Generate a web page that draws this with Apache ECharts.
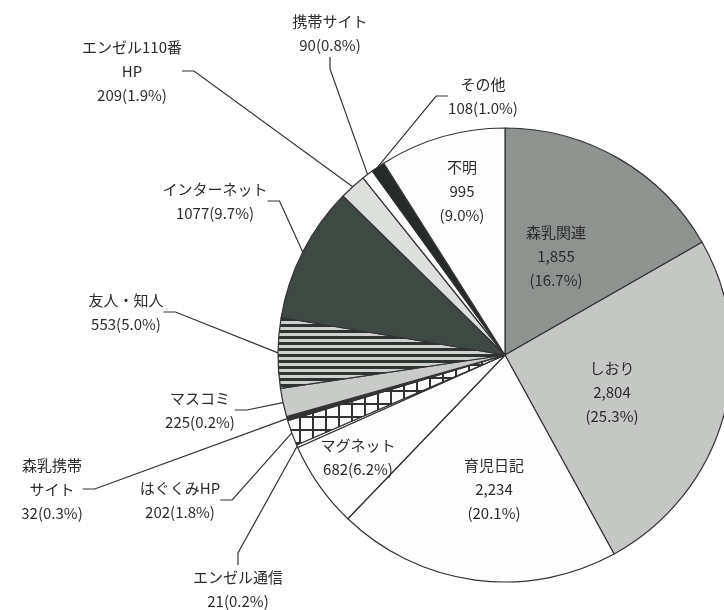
<!DOCTYPE html>
<html>
<head>
<meta charset="utf-8">
<script src="https://cdn.jsdelivr.net/npm/echarts@6/dist/echarts.min.js"></script>
<style>
  html, body { margin: 0; padding: 0; background: #fff; }
  #chart { width: 724px; height: 610px; }
</style>
</head>
<body>
<div id="chart"></div>
<script>
// slices, clockwise from 12 o'clock
const names = ['森乳関連', 'しおり', '育児日記', 'マグネット', 'エンゼル通信', 'はぐくみHP',
  '森乳携帯サイト', 'マスコミ', '友人・知人', 'インターネット', 'エンゼル110番HP',
  '携帯サイト', 'その他', '不明'];
const counts = [1855, 2804, 2234, 682, 21, 202, 32, 225, 553, 1077, 209, 90, 108, 995];
// percentages as printed on the chart
const pcts = ['16.7', '25.3', '20.1', '6.2', '0.2', '1.8', '0.3', '0.2', '5.0', '9.7', '1.9', '0.8', '1.0', '9.0'];

const $chart = document.getElementById('chart');
const chart = echarts.init($chart, null, { renderer: 'canvas' });

const makePattern = (w, h, draw) => {
  const c = document.createElement('canvas');
  c.width = w; c.height = h;
  draw(c.getContext('2d'));
  return { image: c, repeat: 'repeat' };
};
const stripes = makePattern(8, 6, ctx => {
  ctx.fillStyle = '#cfd1ce'; ctx.fillRect(0, 0, 8, 6);
  ctx.fillStyle = '#2e3430'; ctx.fillRect(0, 0, 8, 3);
});
const grid = makePattern(13, 13, ctx => {
  ctx.fillStyle = '#fbfbfb'; ctx.fillRect(0, 0, 13, 13);
  ctx.fillStyle = '#333'; ctx.fillRect(0, 0, 13, 2); ctx.fillRect(0, 0, 2, 13);
});

const fills = {
  '森乳関連': '#8f938f', 'しおり': '#c4c7c3', '育児日記': '#fdfdfd', 'マグネット': '#fdfdfd',
  'エンゼル通信': '#fdfdfd', 'はぐくみHP': grid, '森乳携帯サイト': '#333', 'マスコミ': '#c8cbc7',
  '友人・知人': stripes, 'インターネット': '#3e4944', 'エンゼル110番HP': '#dcdfdb',
  '携帯サイト': '#fdfdfd', 'その他': '#262a28', '不明': '#fdfdfd'
};

const inside = ['森乳関連', 'しおり', '育児日記', 'マグネット', '不明'];

const labelText = i => {
  const n = names[i], v = counts[i], p = pcts[i];
  const big = v.toLocaleString('en-US');
  switch (n) {
    case 'マグネット': return n + '\n' + v + '(' + p + '%)';
    case 'エンゼル110番HP': return 'エンゼル110番\nHP\n' + v + '(' + p + '%)';
    case '森乳携帯サイト': return '森乳携帯\nサイト\n' + v + '(' + p + '%)';
    default:
      return inside.includes(n) ? n + '\n' + big + '\n(' + p + '%)' : n + '\n' + v + '(' + p + '%)';
  }
};

// label centres (layout only)
const labelPos = {
  '森乳関連': [556, 256], 'しおり': [612, 392], '育児日記': [494, 489], 'マグネット': [358, 457],
  '不明': [462, 191], '携帯サイト': [330, 33], 'エンゼル110番HP': [132, 71], 'その他': [483, 96],
  'インターネット': [215, 201], '友人・知人': [126, 312], 'マスコミ': [200, 410],
  '森乳携帯サイト': [52, 489], 'はぐくみHP': [180, 500], 'エンゼル通信': [238, 589]
};

const data = names.map((n, i) => ({
  name: n,
  value: counts[i],
  itemStyle: { color: fills[n] },
  label: { position: inside.includes(n) ? 'inside' : 'outside' },
  labelLine: { show: !inside.includes(n) }
}));

chart.setOption({
  animation: false,
  series: [
    {
      type: 'pie',
      center: [505, 355],
      radius: 227,
      startAngle: 90,
      clockwise: true,
      avoidLabelOverlap: false,
      itemStyle: { borderColor: '#333', borderWidth: 1.2 },
      emphasis: { disabled: true },
      label: {
        formatter: p => labelText(p.dataIndex),
        fontFamily: 'Noto Sans CJK JP',
        fontSize: 15,
        lineHeight: 24,
        color: '#2b2b2b',
        align: 'center'
      },
      labelLine: {
        length: 14,
        length2: 12,
        lineStyle: { color: '#333', width: 1.2 }
      },
      labelLayout: params => {
        const p = labelPos[names[params.dataIndex]];
        return { x: p[0], y: p[1], align: 'center', verticalAlign: 'middle' };
      },
      data: data
    }
  ]
});
</script>
</body>
</html>
